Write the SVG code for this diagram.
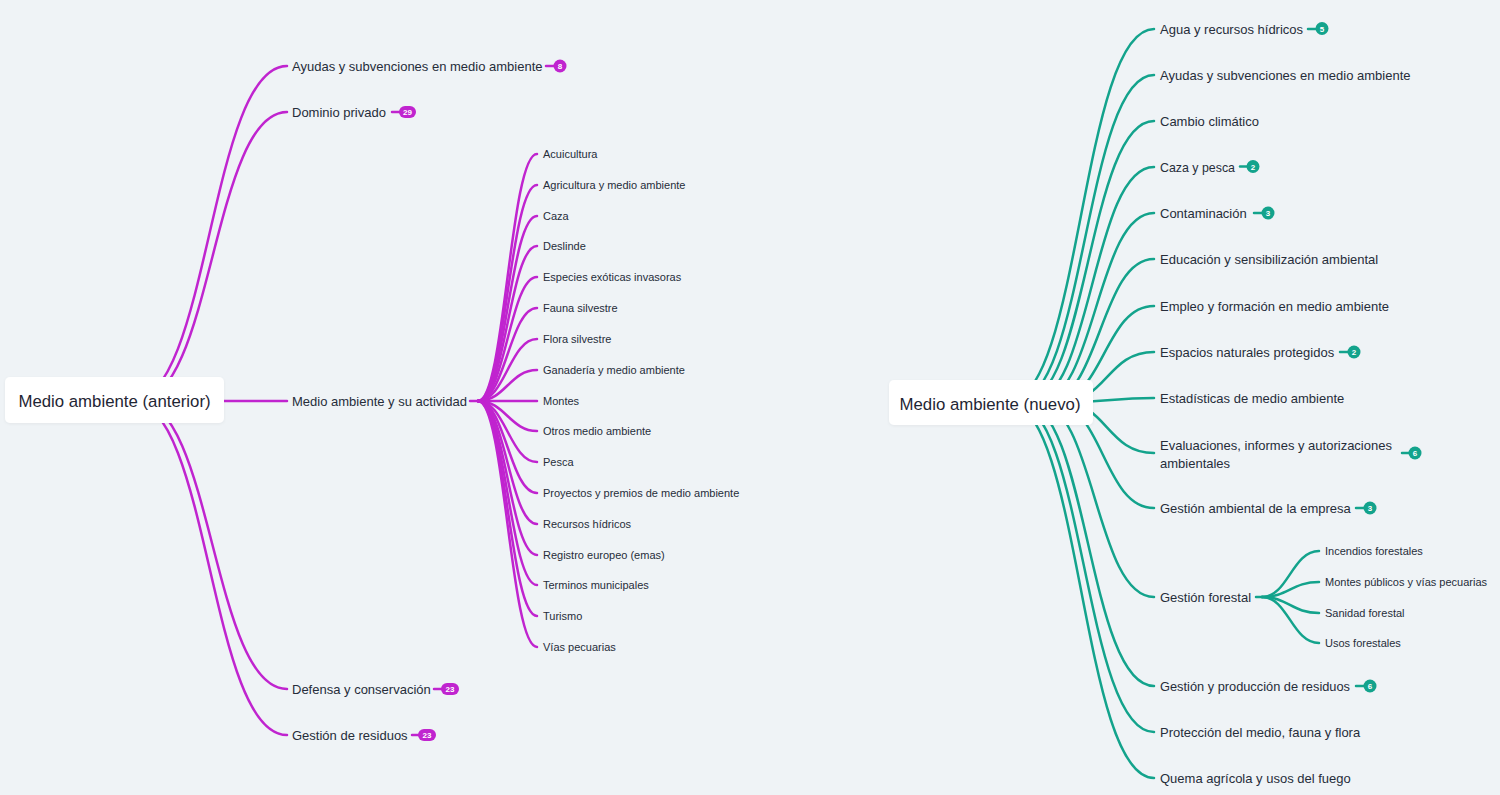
<svg xmlns="http://www.w3.org/2000/svg" width="1500" height="795" viewBox="0 0 1500 795">
<style>
.bg{fill:#eff3f6}
.lp{fill:none;stroke:#c024cf;stroke-width:2.5;stroke-linecap:round}
.rt{fill:none;stroke:#13a38c;stroke-width:2.5;stroke-linecap:round}
.t{font-family:"Liberation Sans",Arial,sans-serif;font-size:13px;fill:#262d3a}
.s{font-family:"Liberation Sans",Arial,sans-serif;font-size:11px;fill:#262d3a}
.root{font-family:"Liberation Sans",Arial,sans-serif;font-size:16.8px;fill:#1f2634;text-anchor:middle}
.box{fill:#ffffff}
.bp{fill:#c024cf}
.bt{fill:#13a38c}
.bl{font-family:"Liberation Sans",Arial,sans-serif;font-size:8px;font-weight:bold;fill:#ffffff;text-anchor:middle}
</style>
<defs>
<filter id="sh" x="-10%" y="-30%" width="120%" height="160%">
<feDropShadow dx="0" dy="1" stdDeviation="1.5" flood-color="#000" flood-opacity="0.05"/>
</filter>
</defs>
<rect class="bg" x="0" y="0" width="1500" height="795"/>
<g id="connectors">
<path class="lp" d="M132 401 C209.5 401 209.5 66 287 66"/>
<path class="lp" d="M138 401 C212.5 401 212.5 112 287 112"/>
<path class="lp" d="M150 401 H287"/>
<path class="lp" d="M138 401 C212.5 401 212.5 689 287 689"/>
<path class="lp" d="M132 401 C209.5 401 209.5 735 287 735"/>
<path class="lp" d="M470 401 H478"/>
<path class="lp" d="M478 401 C505 401 510 154 537 154"/>
<path class="lp" d="M478 401 C505 401 510 185 537 185"/>
<path class="lp" d="M478 401 C505 401 510 216 537 216"/>
<path class="lp" d="M478 401 C505 401 510 246 537 246"/>
<path class="lp" d="M478 401 C505 401 510 277 537 277"/>
<path class="lp" d="M478 401 C505 401 510 308 537 308"/>
<path class="lp" d="M478 401 C505 401 510 339 537 339"/>
<path class="lp" d="M478 401 C505 401 510 370 537 370"/>
<path class="lp" d="M478 401 H537"/>
<path class="lp" d="M478 401 C505 401 510 431 537 431"/>
<path class="lp" d="M478 401 C505 401 510 462 537 462"/>
<path class="lp" d="M478 401 C505 401 510 493 537 493"/>
<path class="lp" d="M478 401 C505 401 510 524 537 524"/>
<path class="lp" d="M478 401 C505 401 510 555 537 555"/>
<path class="lp" d="M478 401 C505 401 510 585 537 585"/>
<path class="lp" d="M478 401 C505 401 510 616 537 616"/>
<path class="lp" d="M478 401 C505 401 510 647 537 647"/>
<path class="rt" d="M1008 402 C1081 402 1081 29 1154 29"/>
<path class="rt" d="M1016 402 C1085 402 1085 75 1154 75"/>
<path class="rt" d="M1023 402 C1088 402 1088 121 1154 121"/>
<path class="rt" d="M1031 402 C1092 402 1092 167 1154 167"/>
<path class="rt" d="M1038 402 C1096 402 1096 213 1154 213"/>
<path class="rt" d="M1046 402 C1100 402 1100 259 1154 259"/>
<path class="rt" d="M1053 402 C1104 402 1104 306 1154 306"/>
<path class="rt" d="M1061 402 C1107 402 1107 352 1154 352"/>
<path class="rt" d="M1068 402 C1111 402 1111 398 1154 398"/>
<path class="rt" d="M1061 402 C1107 402 1107 453 1154 453"/>
<path class="rt" d="M1052 402 C1103 402 1103 508 1154 508"/>
<path class="rt" d="M1037 402 C1095 402 1095 597 1154 597"/>
<path class="rt" d="M1023 402 C1088 402 1088 686 1154 686"/>
<path class="rt" d="M1015 402 C1084 402 1084 732 1154 732"/>
<path class="rt" d="M1008 402 C1081 402 1081 778 1154 778"/>
<path class="rt" d="M1256 597 H1262"/>
<path class="rt" d="M1262 597 C1288 597 1292 551 1319 551"/>
<path class="rt" d="M1262 597 C1288 597 1292 582 1319 582"/>
<path class="rt" d="M1262 597 C1288 597 1292 613 1319 613"/>
<path class="rt" d="M1262 597 C1288 597 1292 643 1319 643"/>
</g>
<g id="root-left">
<rect class="box" x="5" y="377" width="219" height="46" rx="5" filter="url(#sh)"/>
<text class="root" x="114.5" y="407">Medio ambiente (anterior)</text>
</g>
<g id="l-ayudas"><text class="t" x="292" y="70.5">Ayudas y subvenciones en medio ambiente</text><path class="lp" d="M546 66 H554"/><circle class="bp" cx="560" cy="66" r="6.5"/><text class="bl" x="560" y="69">8</text></g>
<g id="l-dominio"><text class="t" x="292" y="116.5">Dominio privado</text><path class="lp" d="M392 112 H400"/><rect class="bp" x="399" y="106" width="17" height="12" rx="6"/><text class="bl" x="407.5" y="115">29</text></g>
<g id="l-medio"><text class="t" x="292" y="405.5">Medio ambiente y su actividad</text></g>
<g id="l-defensa"><text class="t" x="292" y="693.5">Defensa y conservación</text><path class="lp" d="M434 689 H442"/><rect class="bp" x="441" y="683" width="18" height="12" rx="6"/><text class="bl" x="450" y="692">23</text></g>
<g id="l-gestion"><text class="t" x="292" y="739.5">Gestión de residuos</text><path class="lp" d="M412 735 H420"/><rect class="bp" x="418" y="729" width="18" height="12" rx="6"/><text class="bl" x="427" y="738">23</text></g>
<g id="l-sub">
<text class="s" x="543" y="158">Acuicultura</text>
<text class="s" x="543" y="189">Agricultura y medio ambiente</text>
<text class="s" x="543" y="220">Caza</text>
<text class="s" x="543" y="250">Deslinde</text>
<text class="s" x="543" y="281">Especies exóticas invasoras</text>
<text class="s" x="543" y="312">Fauna silvestre</text>
<text class="s" x="543" y="343">Flora silvestre</text>
<text class="s" x="543" y="374">Ganadería y medio ambiente</text>
<text class="s" x="543" y="405">Montes</text>
<text class="s" x="543" y="435">Otros medio ambiente</text>
<text class="s" x="543" y="466">Pesca</text>
<text class="s" x="543" y="497">Proyectos y premios de medio ambiente</text>
<text class="s" x="543" y="528">Recursos hídricos</text>
<text class="s" x="543" y="559">Registro europeo (emas)</text>
<text class="s" x="543" y="589">Terminos municipales</text>
<text class="s" x="543" y="620">Turismo</text>
<text class="s" x="543" y="651">Vías pecuarias</text>
</g>
<g id="root-right">
<rect class="box" x="889" y="380" width="204" height="45" rx="5" filter="url(#sh)"/>
<text class="root" x="990" y="410">Medio ambiente (nuevo)</text>
</g>
<g id="r-agua"><text class="t" x="1160" y="33.5">Agua y recursos hídricos</text><path class="rt" d="M1308 29 H1317"/><circle class="bt" cx="1322" cy="28.5" r="6.5"/><text class="bl" x="1322" y="31.5">5</text></g>
<g id="r-ayudas"><text class="t" x="1160" y="79.5">Ayudas y subvenciones en medio ambiente</text></g>
<g id="r-cambio"><text class="t" x="1160" y="125.5">Cambio climático</text></g>
<g id="r-caza"><text class="t" x="1160" y="171.5" textLength="75" lengthAdjust="spacingAndGlyphs">Caza y pesca</text><path class="rt" d="M1240 166.5 H1248"/><circle class="bt" cx="1253" cy="166.5" r="6.5"/><text class="bl" x="1253" y="169.5">2</text></g>
<g id="r-contaminacion"><text class="t" x="1160" y="217.5">Contaminación</text><path class="rt" d="M1254 213 H1263"/><circle class="bt" cx="1268" cy="213" r="6.5"/><text class="bl" x="1268" y="216">3</text></g>
<g id="r-educacion"><text class="t" x="1160" y="263.5">Educación y sensibilización ambiental</text></g>
<g id="r-empleo"><text class="t" x="1160" y="310.5">Empleo y formación en medio ambiente</text></g>
<g id="r-espacios"><text class="t" x="1160" y="356.5">Espacios naturales protegidos</text><path class="rt" d="M1340 352 H1349"/><circle class="bt" cx="1354" cy="352" r="6.5"/><text class="bl" x="1354" y="355">2</text></g>
<g id="r-estadisticas"><text class="t" x="1160" y="402.5">Estadísticas de medio ambiente</text></g>
<g id="r-evaluaciones"><text class="t" x="1160" y="449.5">Evaluaciones, informes y autorizaciones</text><text class="t" x="1160" y="467.5">ambientales</text><path class="rt" d="M1402 453 H1410"/><circle class="bt" cx="1415" cy="453" r="6.5"/><text class="bl" x="1415" y="456">6</text></g>
<g id="r-gestion-amb"><text class="t" x="1160" y="512.5">Gestión ambiental de la empresa</text><path class="rt" d="M1356 508 H1365"/><circle class="bt" cx="1370" cy="508" r="6.5"/><text class="bl" x="1370" y="511">3</text></g>
<g id="r-forestal"><text class="t" x="1160" y="601.5">Gestión forestal</text></g>
<g id="r-forestal-sub">
<text class="s" x="1325" y="555">Incendios forestales</text>
<text class="s" x="1325" y="586">Montes públicos y vías pecuarias</text>
<text class="s" x="1325" y="617">Sanidad forestal</text>
<text class="s" x="1325" y="647">Usos forestales</text>
</g>
<g id="r-residuos"><text class="t" x="1160" y="690.5" textLength="190" lengthAdjust="spacingAndGlyphs">Gestión y producción de residuos</text><path class="rt" d="M1356 686 H1365"/><circle class="bt" cx="1370" cy="686" r="6.5"/><text class="bl" x="1370" y="689">6</text></g>
<g id="r-proteccion"><text class="t" x="1160" y="736.5">Protección del medio, fauna y flora</text></g>
<g id="r-quema"><text class="t" x="1160" y="782.5">Quema agrícola y usos del fuego</text></g>
</svg>
